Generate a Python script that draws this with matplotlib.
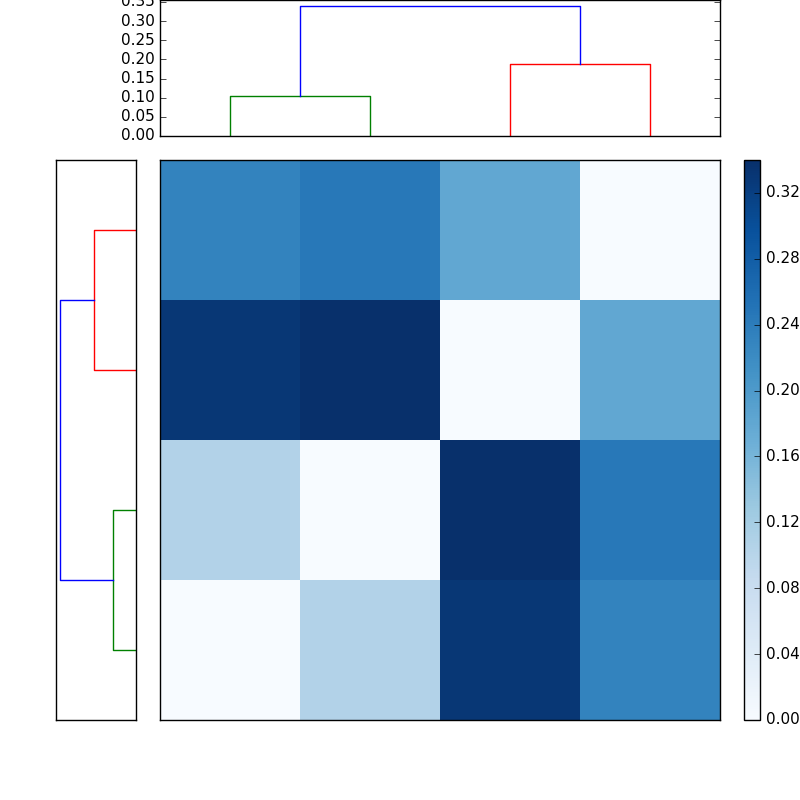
import matplotlib
matplotlib.use("Agg")
import matplotlib.pyplot as plt
import numpy as np

plt.style.use("classic")
plt.rcParams["xtick.labelsize"] = 11
plt.rcParams["ytick.labelsize"] = 11

# distance matrix (row 0 at bottom)
D = np.array([
    [0.000, 0.105, 0.330, 0.230],
    [0.105, 0.000, 0.340, 0.245],
    [0.330, 0.340, 0.000, 0.180],
    [0.230, 0.245, 0.180, 0.000],
])
leaf_pos = [5, 15, 25, 35]
# dendrogram links: (left x, right x, left child height, right child height, height, color)
links = [
    (5, 15, 0.0, 0.0, 0.105, "g"),
    (25, 35, 0.0, 0.0, 0.188, "r"),
    (10, 30, 0.105, 0.188, 0.340, "b"),
]

fig = plt.figure(figsize=(8, 8), dpi=100)
fig.patch.set_facecolor("white")

axt = fig.add_axes([0.2, 0.83, 0.7, 0.17])
for x1, x2, h1, h2, h, c in links:
    axt.plot([x1, x1, x2, x2], [h1, h, h, h2], color=c)
axt.set_xlim(0, 40)
axt.set_ylim(0, 0.355)
axt.set_yticks(np.arange(0, 0.36, 0.05))
axt.set_xticks([])
axt.tick_params(axis="y", right=True)

axl = fig.add_axes([0.07, 0.1, 0.1, 0.7])
for x1, x2, h1, h2, h, c in links:
    axl.plot([h1, h, h, h2], [x1, x1, x2, x2], color=c)
axl.set_xlim(0.358, 0)
axl.set_ylim(0, 40)
axl.set_xticks([])
axl.set_yticks([])

axh = fig.add_axes([0.2, 0.1, 0.7, 0.7])
im = axh.imshow(D, cmap="Blues", origin="lower", aspect="auto",
                interpolation="nearest", vmin=0, vmax=0.34)
axh.set_xticks([])
axh.set_yticks([])

cax = fig.add_axes([0.93, 0.1, 0.02, 0.7])
cb = fig.colorbar(im, cax=cax, ticks=np.arange(0, 0.33, 0.04))
cb.ax.set_yticklabels([f"{v:.2f}" for v in np.arange(0, 0.33, 0.04)])

fig.savefig("out.png", dpi=100, facecolor="white")
